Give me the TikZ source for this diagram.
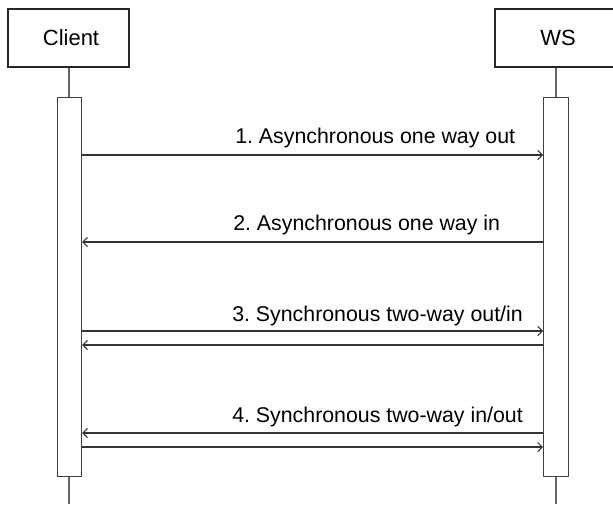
\documentclass[tikz,border=0pt]{standalone}
\usepackage{fontspec}
\setmainfont{Liberation Sans}
\frenchspacing
\usetikzlibrary{arrows.meta}
\begin{document}
\begin{tikzpicture}[x=0.75pt,y=-0.75pt,
  actor/.style={draw=black!85,line width=0.8pt,fill=white,inner sep=0pt,font=\fontsize{16.5}{18}\selectfont},
  lifeline/.style={draw=black!60,line width=1.2pt},
  actbar/.style={draw=black!75,line width=0.9pt,fill=white},
  msg/.style={draw=black!80,line width=0.8pt},
  msgarrow/.style={msg,-{Straight Barb[length=3.5pt,width=7pt,line width=0.7pt]}},
  lbl/.style={anchor=base west,inner sep=0pt,font=\fontsize{16}{18}\selectfont}]
\clip (0,0) rectangle (613,504);
\fill[white] (0,0) rectangle (613,504);
% lifelines
\coordinate (cTop) at (69,67);
\coordinate (cBot) at (69,504);
\coordinate (wTop) at (556,67);
\coordinate (wBot) at (556,504);
\draw[lifeline] (cTop) -- (cBot);
\draw[lifeline] (wTop) -- (wBot);
% actor boxes
\draw[actor] (8,9) rectangle (129,67);
\node[inner sep=0pt,font=\fontsize{16.5}{18}\selectfont] (client) at (71,38) {Client};
\draw[actor] (495,9) rectangle (621,67);
\node[inner sep=0pt,font=\fontsize{16.5}{18}\selectfont] (ws) at (558,38) {WS};
% activation bars
\node[actbar,minimum width=24*0.75pt,minimum height=379*0.75pt,inner sep=0pt,anchor=north west] (cbar) at (57,97) {};
\node[actbar,minimum width=25*0.75pt,minimum height=379*0.75pt,inner sep=0pt,anchor=north west] (wbar) at (543,97) {};
% message end points
\foreach \n/\y in {a/155,b/242,c/331,d/345,e/433,f/447}{
  \coordinate (cl\n) at (cbar.east |- 0,\y);
  \coordinate (ws\n) at (wbar.west |- 0,\y);
}
\draw[msgarrow] (cla) -- (wsa);
\draw[msgarrow] (wsb) -- (clb);
\draw[msgarrow] (clc) -- (wsc);
\draw[msgarrow] (wsd) -- (cld);
\draw[msgarrow] (wse) -- (cle);
\draw[msgarrow] (clf) -- (wsf);
% labels
\node[lbl] (l1) at (235,143) {1. Asynchronous one way out};
\node[lbl] (l2) at (233,230) {2. Asynchronous one way in};
\node[lbl] (l3) at (232,321) {3. Synchronous two-way out/in};
\node[lbl] (l4) at (232,422) {4. Synchronous two-way in/out};
\end{tikzpicture}
\end{document}
